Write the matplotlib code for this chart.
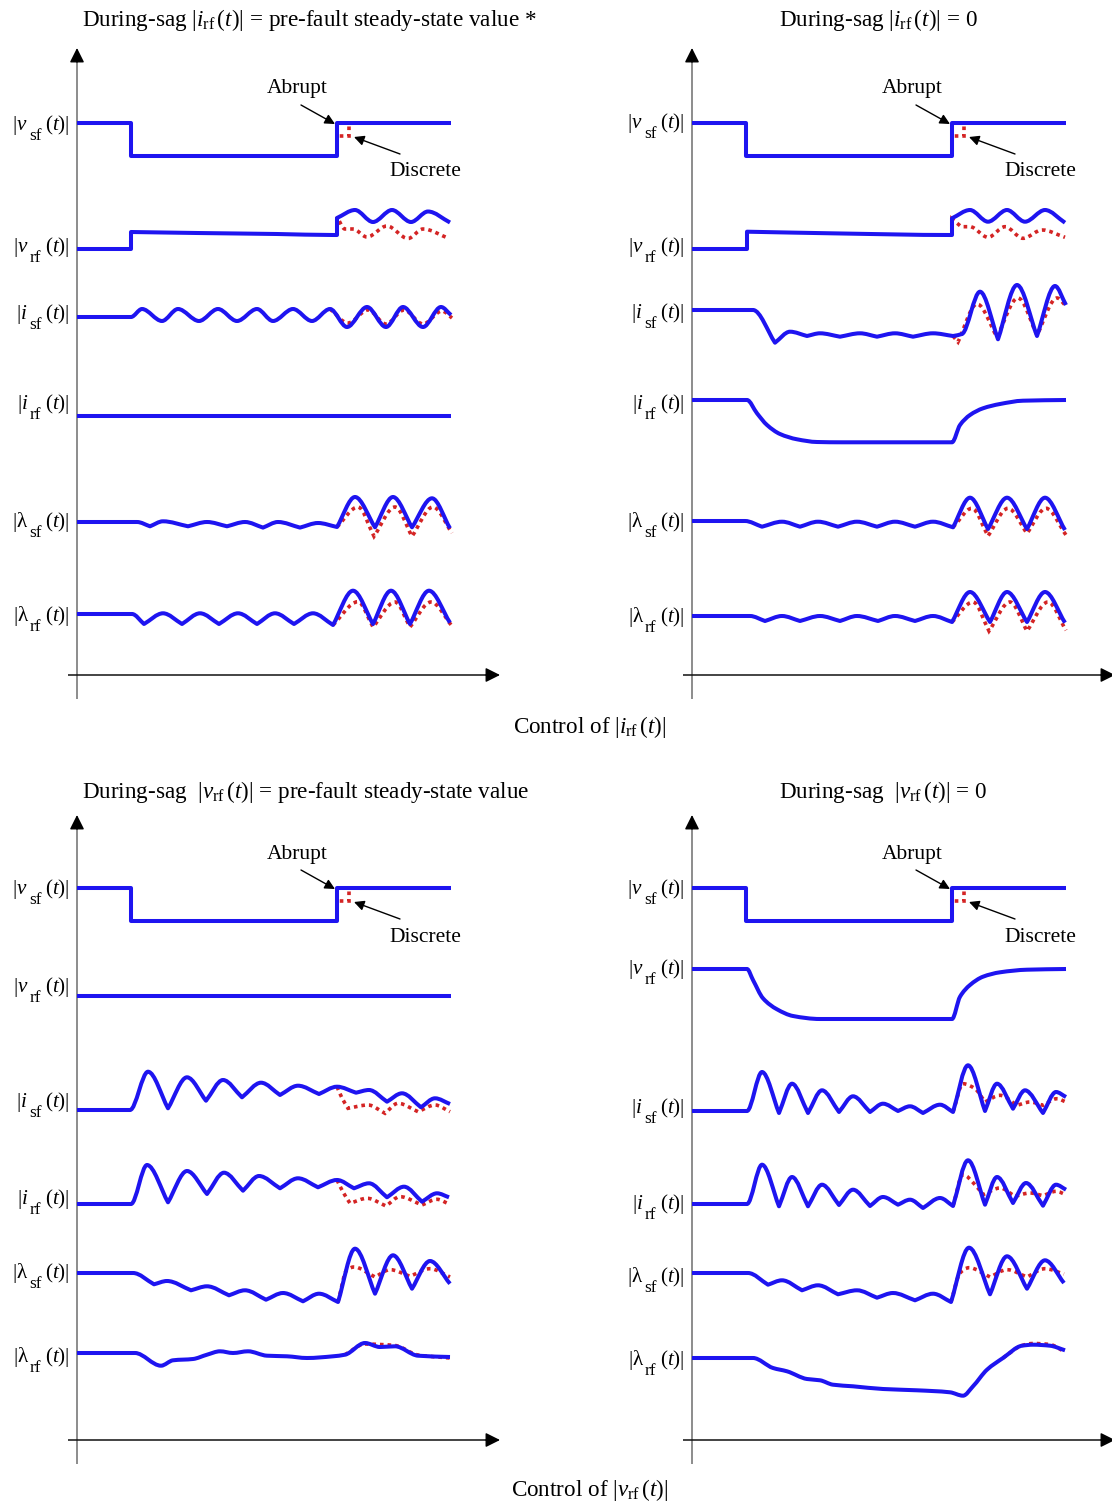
import numpy as np
import matplotlib
matplotlib.use("Agg")
import matplotlib.pyplot as plt
from matplotlib.path import Path
from matplotlib.patches import PathPatch
from matplotlib.transforms import offset_copy

plt.rcParams['font.family'] = ['Liberation Serif', 'DejaVu Serif']
plt.rcParams['mathtext.fontset'] = 'custom'
plt.rcParams['mathtext.rm'] = 'Liberation Serif'
plt.rcParams['mathtext.it'] = 'Liberation Serif:italic'
plt.rcParams['mathtext.bf'] = 'Liberation Serif:bold'

# ---------------------------------------------------------------------------
# Waveforms: (time [ms], magnitude deviation from the row's pre-fault level)
# Sag begins at t = 54 ms, grid voltage recovers at t = 260 ms.
# "cont" = abrupt (continuous) recovery, "disc" = discrete recovery.
# ---------------------------------------------------------------------------

# stator-flux voltage, same in all four cases
VSF_CONT = [(0, 0), (54, 0), (54, -33), (260, -33), (260, 0), (374, 0)]
VSF_DISC = [(260, -33), (260, -13), (272, -13), (272, 0), (374, 0)]

# --- control of |i_rf|, during-sag |i_rf| = pre-fault value ---------------
A_VRF = [(0, 0), (54, 0), (54, 17), (120, 16), (200, 15), (256, 14), (260, 14),
         (260, 31), (278, 39), (296, 27), (315, 39), (334, 27), (351, 37.5), (373, 26.5)]
A_VRF_DISC = [(260, 14), (260, 32), (268, 20), (276, 20), (290, 12), (310, 23),
              (331, 10.5), (346, 20), (372, 10.5)]
A_ISF = [(0, 0), (54, 0), (65, 8), (85, -4), (101, 8), (122, -4), (141, 8), (160, -4),
         (180, 8), (196, -4), (216, 8), (235, -4), (253, 8), (270, -10), (290, 10),
         (309, -10), (326, 10), (346, -10), (364, 10), (374, 2)]
A_ISF_DISC = [(253, 8), (271, -6), (291, 7), (309, -7), (327, 7), (346, -7), (365, 6), (375, -1)]
A_IRF = [(0, 0), (374, 0)]
A_LSF = [(0, 0), (60, 0), (73, -4.3), (86, 0.7), (111, -4.3), (130, 0), (150, -4.3),
         (168, 0), (186, -5.6), (201, 0), (223, -5.6), (241, -1), (260, -5), (278, 25),
         (298, -5.3), (316, 25), (335, -5.3), (355, 23.7), (373, -6.3)]
A_LSF_DISC = [(260, -5), (281, 15), (297, -14.3), (318, 15), (335, -14.3), (356, 15), (375, -11)]
A_LRF = [(0, 0), (55, 0), (67, -10), (86, 0.7), (105, -10), (123, 0.7), (142, -10),
         (161, 0.7), (180, -10), (198, 0.7), (217, -10), (236, 0.7), (256, -11),
         (276, 23.3), (296, -10), (314, 23.3), (333, -10), (352, 23.3), (373, -8.7)]
A_LRF_DISC = [(256, -11), (281, 12.3), (296, -13), (318, 12), (333, -13), (354, 12), (375, -12)]

# --- control of |i_rf|, during-sag |i_rf| = 0 ------------------------------
B_VRF = [(0, 0), (55, 0), (55, 17.3), (150, 15.5), (258, 14), (260, 14), (260, 30.7),
         (278, 39), (296, 27.3), (315, 39), (333, 27.3), (353, 39), (373, 26.3)]
B_VRF_DISC = [(260, 14), (260, 30), (266, 25), (270, 22.3), (278, 22.3), (296, 11.7),
              (313, 22.3), (331, 10.7), (350, 19), (373, 11.7)]
B_ISF = [(0, 0), (61, 0), (83, -32.7), (98, -21.7), (115, -26), (128, -23.3), (148, -26.7),
         (168, -23.3), (185, -26.7), (203, -23.3), (221, -26.7), (241, -23.3), (261, -26),
         (270, -24), (288, 18.3), (306, -29.3), (325, 25), (345, -26), (363, 24), (374, 5)]
B_ISF_DISC = [(261, -26), (266, -32), (285, 6), (305, -27), (326, 12), (345, -25), (365, 12), (374, 4)]
B_IRF = [(0, 0), (55, 0), (65, -13.3), (75, -25), (88, -34), (105, -39.3), (125, -42),
         (150, -42.3), (260, -42.3), (268, -25), (278, -15), (291, -8.3), (308, -4),
         (331, -0.7), (374, 0)]
B_LSF = [(0, 0), (53, 0), (70, -5.7), (90, -0.7), (108, -5.7), (126, -0.7), (146, -5.7),
         (165, -0.7), (185, -5.7), (203, -0.7), (223, -5.7), (241, -0.7), (261, -6.3),
         (278, 23.3), (296, -8), (315, 23.3), (335, -8), (353, 23.3), (373, -9)]
B_LSF_DISC = [(261, -6.3), (280, 12.7), (296, -15), (316, 12.7), (335, -12.3), (354, 12.7), (374, -14)]
B_LRF = [(0, 0), (58, 0), (73, -5), (90, 0), (108, -5), (128, 0), (148, -5), (165, 0),
         (186, -5), (203, 0), (223, -5), (241, 0), (260, -6), (278, 24), (298, -6),
         (315, 24), (335, -6), (353, 24), (373, -6.7)]
B_LRF_DISC = [(260, -6), (281, 14), (297, -15), (318, 14), (335, -15), (356, 14), (374, -14.3)]

# --- control of |v_rf|, during-sag |v_rf| = pre-fault value ---------------
C_VRF = [(0, 0), (374, 0)]
C_ISF = [(0, 0), (53, 0), (71, 38.3), (91, 1.7), (110, 32.7), (129, 9.3), (146, 30),
         (165, 12.7), (184, 27.3), (203, 15), (221, 24.3), (242, 16), (260, 23.3),
         (279, 17.3), (292, 20), (310, 8.3), (325, 16.7), (344, 2.7), (358, 11.7), (373, 6)]
C_ISF_DISC = [(260, 23.3), (265, 12), (271, 1.7), (291, 5), (308, -3.3), (321, 6.7),
              (341, -1.7), (358, 5), (373, -1.7)]
C_IRF = [(0, 0), (54, 0), (70, 39), (91, 1.7), (110, 33), (130, 10), (147, 31.3),
         (166, 13.3), (182, 28), (203, 15.7), (221, 25.7), (241, 16.7), (260, 24),
         (277, 15.7), (292, 20.7), (310, 6.7), (327, 17.3), (345, 2.3), (360, 10.7), (372, 6.7)]
C_IRF_DISC = [(260, 24), (266, 12), (273, 0.7), (290, 5.7), (309, -2), (323, 7.3),
              (345, -1), (360, 4.7), (372, 0)]
C_LSF = [(0, 0), (56, 0), (77, -11.3), (90, -8), (114, -17.3), (130, -13.3), (152, -22.3),
         (168, -17.3), (189, -26.7), (206, -20), (226, -28.3), (242, -20.7), (261, -29),
         (278, 24.3), (298, -20.7), (316, 17.7), (335, -15.7), (353, 12), (373, -10.7)]
C_LSF_DISC = [(261, -29), (270, 3.3), (277, 6), (298, -4), (313, 3.3), (333, -3.3),
              (353, 4.3), (373, -4)]
C_LRF = [(0, 0), (58, 0), (84, -12.7), (96, -7.3), (116, -6), (130, -1.7), (143, 1.7),
         (156, 0), (171, 1.7), (190, -2.7), (210, -3.3), (230, -5), (256, -3.3),
         (268, -1.7), (288, 10), (303, 6), (318, 6.7), (341, -2.7), (373, -4)]
C_LRF_DISC = [(268, -1.7), (288, 9), (303, 8.5), (318, 7.5), (341, -2), (373, -5)]

# --- control of |v_rf|, during-sag |v_rf| = 0 ------------------------------
D_VRF = [(0, 0), (55, 0), (61, -11), (71, -29.3), (85, -40.3), (101, -47), (128, -50),
         (260, -50), (268, -27.7), (278, -16), (291, -7.7), (308, -3.3), (335, -0.7), (374, 0)]
D_ISF = [(0, 0), (55, 0), (70, 39), (87, -2), (100, 27.3), (116, -2), (130, 20.7),
         (147, -1), (161, 14.7), (178, -1), (191, 7.3), (206, 0), (218, 4.7), (231, -2),
         (248, 6.3), (261, -1), (276, 45.7), (293, 0), (305, 27.3), (321, 2.3), (333, 20.7),
         (351, -2), (364, 19), (374, 14)]
D_ISF_DISC = [(261, -1), (271, 27.3), (283, 22.3), (293, 9), (308, 15.7), (325, 5.7),
              (338, 9), (351, 5.7), (365, 12.3), (374, 9)]
D_IRF = [(0, 0), (55, 0), (70, 39.3), (87, -2.3), (100, 27), (116, -2.3), (130, 19.3),
         (147, -1), (161, 14.3), (178, -2), (191, 7), (206, -0.7), (218, 4.3), (231, -4),
         (248, 6), (261, -2), (276, 43.7), (293, -0.7), (305, 27), (321, 1), (334, 21),
         (351, -1.7), (364, 19.3), (374, 14.3)]
D_IRF_DISC = [(261, -2), (271, 29.3), (283, 19.3), (291, 9.3), (308, 16), (323, 7.7),
              (338, 11), (351, 8.3), (364, 12.7), (374, 9.3)]
D_LSF = [(0, 0), (56, 0), (76, -11.7), (90, -7.3), (110, -17.3), (126, -12.3), (146, -21.3),
         (165, -17.3), (185, -24.7), (201, -20), (223, -27.3), (241, -20.7), (259, -29),
         (277, 25.3), (298, -21.3), (315, 16.7), (335, -15.7), (353, 12.7), (372, -10)]
D_LSF_DISC = [(259, -29), (268, 0), (277, 5.3), (298, -4), (315, 3.3), (335, -4),
              (353, 4.3), (372, -1)]
D_LRF = [(0, 0), (61, 0), (81, -10), (95, -13.3), (115, -21), (128, -22.3), (141, -26.7),
         (161, -28.3), (191, -31), (225, -32.3), (258, -34.3), (271, -37.7), (281, -28.3),
         (295, -11.7), (311, 0), (330, 12.3), (341, 13.3), (358, 12.3), (373, 7.7)]
D_LRF_DISC = [(311, 0), (330, 12.5), (341, 14.5), (358, 13.5), (373, 6)]

# row labels: (symbol, subscript)
LBL_VSF = (r'$|v$', 'sf')
LBL_VRF = (r'$|v$', 'rf')
LBL_ISF = (r'$|i$', 'sf')
LBL_IRF = (r'$|i$', 'rf')
LBL_LSF = (r'$|\mathrm{\lambda}$', 'sf')
LBL_LRF = (r'$|\mathrm{\lambda}$', 'rf')

TITLE_A = r'During-sag $|i_{\mathrm{rf}}\,(t)|$ = pre-fault steady-state value *'
TITLE_B = r'During-sag $|i_{\mathrm{rf}}\,(t)|$ = 0'
TITLE_C = r'During-sag  $|v_{\mathrm{rf}}\,(t)|$ = pre-fault steady-state value'
TITLE_D = r'During-sag  $|v_{\mathrm{rf}}\,(t)|$ = 0'
CTRL_TOP = r'Control of $|i_{\mathrm{rf}}\,(t)|$'
CTRL_BOTTOM = r'Control of $|v_{\mathrm{rf}}\,(t)|$'

# ---------------------------------------------------------------------------
# Layout (figure pixels)
# ---------------------------------------------------------------------------
W, H = 1112, 1502
BLUE = '#1e14f0'
RED = '#d42424'
FS = 15.5        # annotations
FS_TITLE = 16.7  # panel titles and control captions
FS_LBL = 15.2    # row labels
FS_SUB = 12.4    # row label subscripts

# row: (label, continuous, discrete, row level, label height, cusped minima)
PANELS = [
    dict(origin=(77, 675), ytop=627, title=TITLE_A, title_xy=(82, 20), rows=[
        (LBL_VSF, VSF_CONT, VSF_DISC, 552, 550, False),
        (LBL_VRF, A_VRF, A_VRF_DISC, 426, 428, False),
        (LBL_ISF, A_ISF, A_ISF_DISC, 358, 361, False),
        (LBL_IRF, A_IRF, None, 259, 271, False),
        (LBL_LSF, A_LSF, A_LSF_DISC, 153, 153, True),
        (LBL_LRF, A_LRF, A_LRF_DISC, 61, 59, True)]),
    dict(origin=(692, 675), ytop=627, title=TITLE_B, title_xy=(779, 20), rows=[
        (LBL_VSF, VSF_CONT, VSF_DISC, 552, 552, False),
        (LBL_VRF, B_VRF, B_VRF_DISC, 426, 428, False),
        (LBL_ISF, B_ISF, B_ISF_DISC, 365, 362, True),
        (LBL_IRF, B_IRF, None, 275, 271, False),
        (LBL_LSF, B_LSF, B_LSF_DISC, 154, 153, True),
        (LBL_LRF, B_LRF, B_LRF_DISC, 59, 58, True)]),
    dict(origin=(77, 1440), ytop=625, title=TITLE_C, title_xy=(82, 792), rows=[
        (LBL_VSF, VSF_CONT, VSF_DISC, 552, 551, False),
        (LBL_VRF, C_VRF, None, 444, 453, False),
        (LBL_ISF, C_ISF, C_ISF_DISC, 330, 338, True),
        (LBL_IRF, C_IRF, C_IRF_DISC, 236, 241, True),
        (LBL_LSF, C_LSF, C_LSF_DISC, 167, 167, True),
        (LBL_LRF, C_LRF, C_LRF_DISC, 87, 83, False)]),
    dict(origin=(692, 1440), ytop=625, title=TITLE_D, title_xy=(779, 792), rows=[
        (LBL_VSF, VSF_CONT, VSF_DISC, 552, 551, False),
        (LBL_VRF, D_VRF, None, 471, 471, False),
        (LBL_ISF, D_ISF, D_ISF_DISC, 329, 332, True),
        (LBL_IRF, D_IRF, D_IRF_DISC, 236, 236, True),
        (LBL_LSF, D_LSF, D_LSF_DISC, 167, 163, True),
        (LBL_LRF, D_LRF, D_LRF_DISC, 82, 80, False)]),
]


def hermite_slopes(ts, ys, cusp):
    """Monotone (Fritsch-Carlson) slopes; optional sharp minima."""
    n = len(ts)
    m_in, m_out = np.zeros(n), np.zeros(n)
    if n < 2:
        return m_in, m_out
    h = np.diff(ts)
    d = np.diff(ys) / h
    m_out[0] = m_in[0] = d[0]
    m_out[-1] = m_in[-1] = d[-1]
    for i in range(1, n - 1):
        if d[i - 1] * d[i] > 0:
            w1 = 2 * h[i] + h[i - 1]
            w2 = h[i] + 2 * h[i - 1]
            m_in[i] = m_out[i] = (w1 + w2) / (w1 / d[i - 1] + w2 / d[i])
        elif cusp and d[i - 1] < 0 < d[i]:
            m_in[i], m_out[i] = d[i - 1], d[i]
    return m_in, m_out


def trace_path(points, level, cusp=False):
    """Smooth Bezier path through the samples; repeated times are vertical steps."""
    t = np.array([p[0] for p in points], float)
    y = np.array([p[1] for p in points], float) + level
    n = len(t)
    cuts = [0] + [i for i in range(1, n) if t[i] == t[i - 1]] + [n]
    verts, codes = [(t[0], y[0])], [Path.MOVETO]
    for k in range(len(cuts) - 1):
        ts, ys = t[cuts[k]:cuts[k + 1]], y[cuts[k]:cuts[k + 1]]
        if k > 0:
            verts.append((ts[0], ys[0]))
            codes.append(Path.LINETO)
        m_in, m_out = hermite_slopes(ts, ys, cusp)
        for i in range(len(ts) - 1):
            h = ts[i + 1] - ts[i]
            verts += [(ts[i] + h / 3, ys[i] + m_out[i] * h / 3),
                      (ts[i + 1] - h / 3, ys[i + 1] - m_in[i + 1] * h / 3),
                      (ts[i + 1], ys[i + 1])]
            codes += [Path.CURVE4] * 3
    return Path(verts, codes)


def fig_xy(x, y):
    return x / W, 1 - y / H


fig = plt.figure(figsize=(W / 100, H / 100), dpi=100)
renderer = fig.canvas.get_renderer()


def row_label(ax, x, y, symbol, sub):
    """'|x_sub (t)|' set right-aligned at (x, y) with a large, low subscript."""
    tail = ax.text(x, y, r'$(t)|$', ha='right', va='baseline', fontsize=FS_LBL, clip_on=False)
    w_tail = tail.get_window_extent(renderer).width
    tr_sub = offset_copy(ax.transData, fig=fig, x=-(w_tail + 4), y=-10, units='dots')
    s = ax.text(x, y, sub, transform=tr_sub, ha='right', va='baseline', fontsize=FS_SUB,
                clip_on=False)
    w_sub = s.get_window_extent(renderer).width
    tr_sym = offset_copy(ax.transData, fig=fig, x=-(w_tail + 4 + w_sub + 1), y=0, units='dots')
    ax.text(x, y, symbol, transform=tr_sym, ha='right', va='baseline', fontsize=FS_LBL,
            clip_on=False)


for p in PANELS:
    ox, oy = p['origin']
    x0, x1, y0, y1 = -80, 445, -35, 650
    ax = fig.add_axes([(ox + x0) / W, 1 - (oy - y0) / H, (x1 - x0) / W, (y1 - y0) / H])
    ax.set_xlim(x0, x1)
    ax.set_ylim(y0, y1)
    ax.axis('off')

    # axes with arrow heads
    ax.plot([0, 0], [-24, p['ytop'] - 10], color='#6e6e6e', lw=1.1, solid_capstyle='butt')
    ax.plot([-9, 412], [0, 0], color='#111111', lw=1.1, solid_capstyle='butt')
    head = dict(arrowstyle='-|>', color='k', lw=1.0, mutation_scale=22, shrinkA=0, shrinkB=0)
    ax.annotate('', xy=(0, p['ytop']), xytext=(0, p['ytop'] - 14), arrowprops=head,
                annotation_clip=False)
    ax.annotate('', xy=(423, 0), xytext=(409, 0), arrowprops=head, annotation_clip=False)

    for (symbol, sub), cont, disc, level, lab_h, cusp in p['rows']:
        if disc is not None:
            ax.add_patch(PathPatch(trace_path(disc, level, cusp), fill=False, ec=RED, lw=2.6,
                                   ls=(0, (1, 1.1)), capstyle='butt', zorder=2))
        ax.add_patch(PathPatch(trace_path(cont, level, cusp), fill=False, ec=BLUE, lw=2.9,
                               joinstyle='round', capstyle='butt', zorder=3))
        row_label(ax, -7, lab_h - 5, symbol, sub)

    # recovery annotations on the stator voltage row
    arr = dict(arrowstyle='-|>', color='k', lw=1.0, mutation_scale=15, shrinkA=0, shrinkB=0)
    ax.text(220, 586, 'Abrupt', ha='center', va='center', fontsize=FS)
    ax.annotate('', xy=(258, 551), xytext=(224, 570), arrowprops=arr)
    ax.text(348, 503, 'Discrete', ha='center', va='center', fontsize=FS)
    ax.annotate('', xy=(277, 538), xytext=(323, 521), arrowprops=arr)

    tx, ty = p['title_xy']
    fig.text(*fig_xy(tx, ty), p['title'], ha='left', va='center', fontsize=FS_TITLE)

fig.text(*fig_xy(590, 727), CTRL_TOP, ha='center', va='center', fontsize=FS_TITLE)
fig.text(*fig_xy(590, 1490), CTRL_BOTTOM, ha='center', va='center', fontsize=FS_TITLE)

fig.savefig('out.png', dpi=100, facecolor='white')
